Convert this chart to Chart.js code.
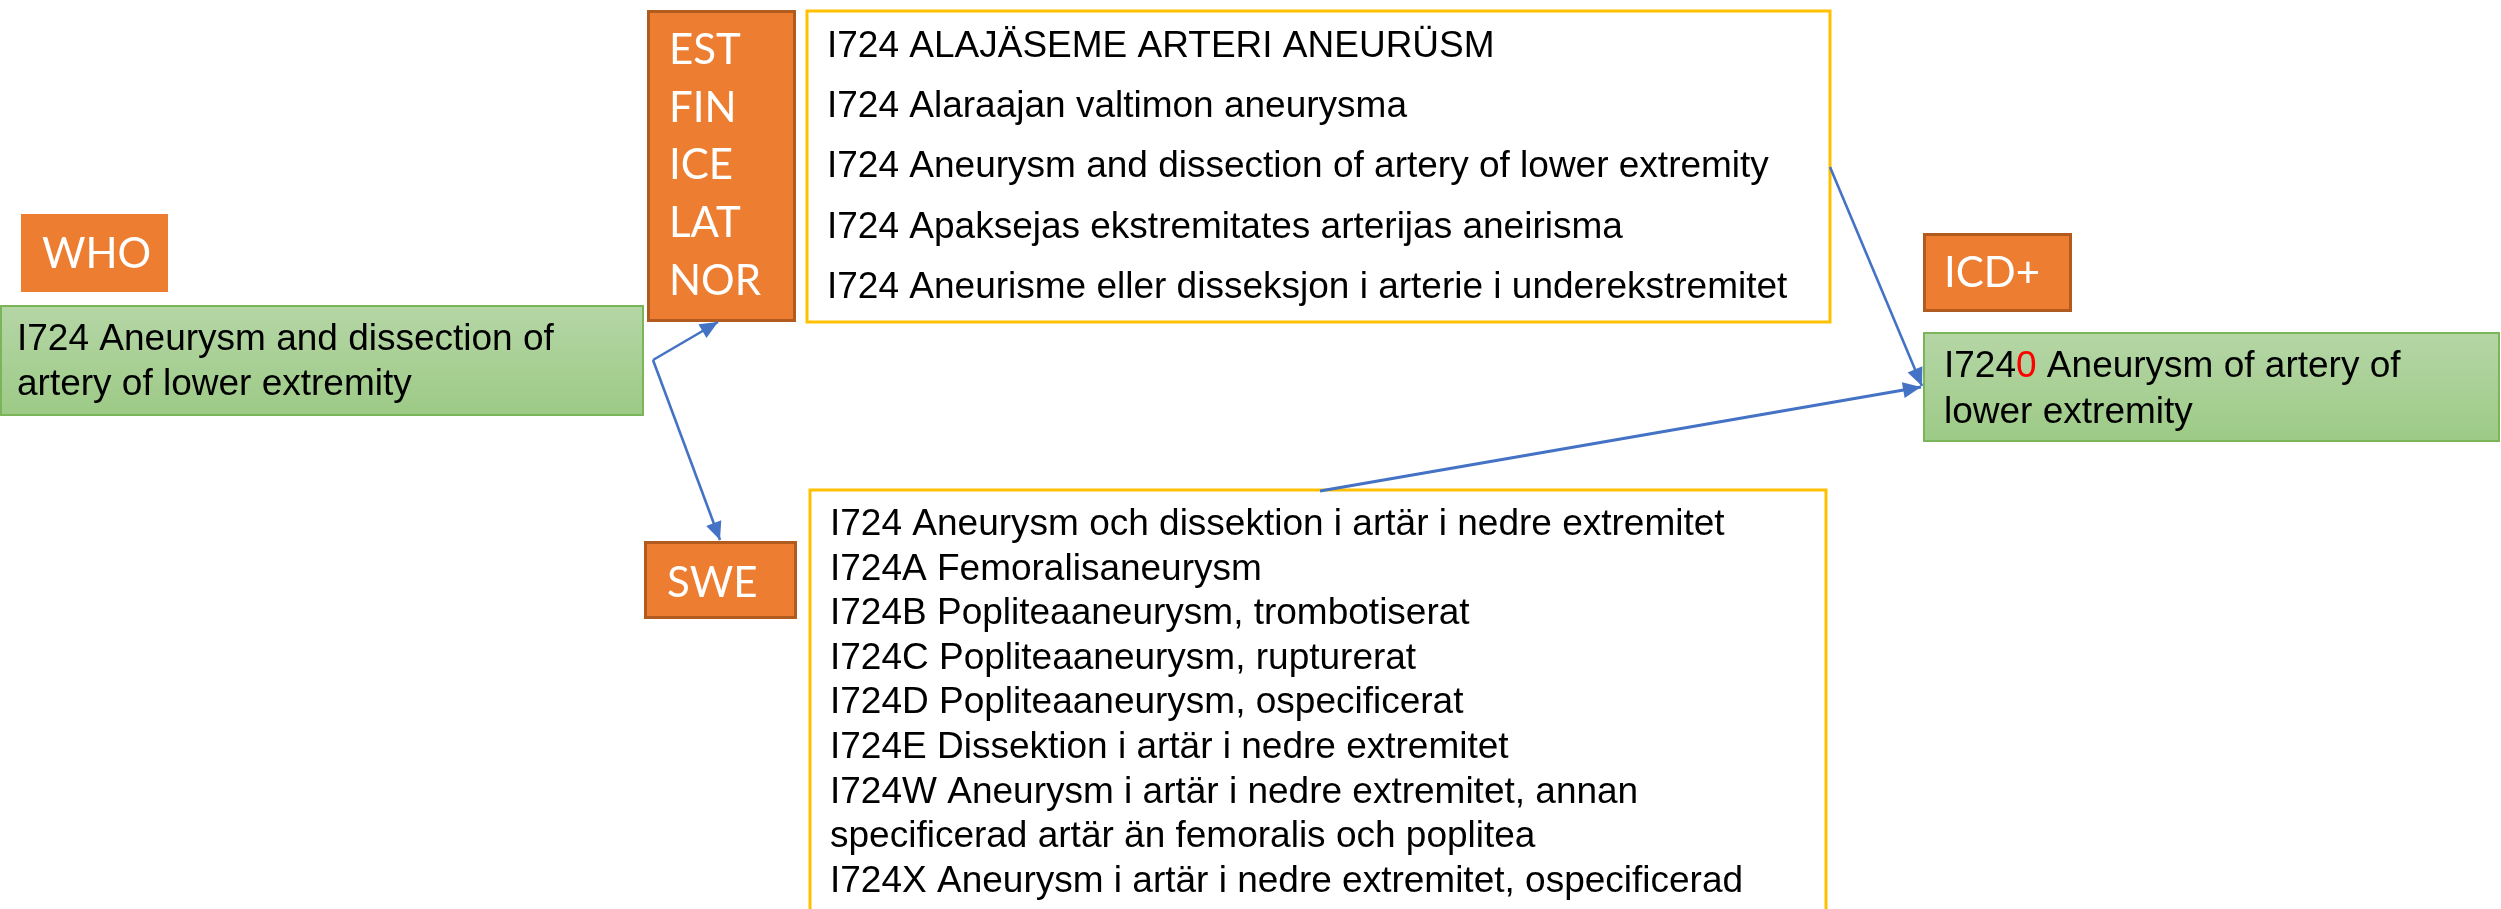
<!DOCTYPE html>
<html>
<head>
<meta charset="utf-8">
<script src="https://cdn.jsdelivr.net/npm/chart.js@4"></script>
<style>
  html, body { margin: 0; padding: 0; background: #fff; }
  #wrap { width: 2501px; height: 909px; }
</style>
</head>
<body>
<div id="wrap"><canvas id="mapChart" width="2501" height="909"></canvas></div>
<script>
// labels and terms
const whoLabel = "WHO";
const icdLabel = "ICD+";
const sweLabel = "SWE";
const langCodes = ["EST", "FIN", "ICE", "LAT", "NOR"];
const whoTerm = ["I724 Aneurysm and dissection of", "artery of lower extremity"];
const nordicTerms = [
  "I724 ALAJÄSEME ARTERI ANEURÜSM",
  "I724 Alaraajan valtimon aneurysma",
  "I724 Aneurysm and dissection of artery of lower extremity",
  "I724 Apaksejas ekstremitates arterijas aneirisma",
  "I724 Aneurisme eller disseksjon i arterie i underekstremitet"
];
const sweTerms = [
  "I724 Aneurysm och dissektion i artär i nedre extremitet",
  "I724A Femoralisaneurysm",
  "I724B Popliteaaneurysm, trombotiserat",
  "I724C Popliteaaneurysm, rupturerat",
  "I724D Popliteaaneurysm, ospecificerat",
  "I724E Dissektion i artär i nedre extremitet",
  "I724W Aneurysm i artär i nedre extremitet, annan",
  "specificerad artär än femoralis och poplitea",
  "I724X Aneurysm i artär i nedre extremitet, ospecificerad"
];
// ICD+ code split so the added digit can be red
const icdCode = ["I724", "0"];
const icdTerm = [" Aneurysm of artery of", "lower extremity"];

// connector arrows (x, y in page units)
const linkToNordic = [{ x: 653, y: 360 }, { x: 718, y: 322 }];
const linkToSwe = [{ x: 653, y: 360 }, { x: 720, y: 540 }];
const linkNordicIcd = [{ x: 1830, y: 167 }, { x: 1922, y: 386 }];
const linkSweIcd = [{ x: 1320, y: 491 }, { x: 1921, y: 387 }];

// box layout
const layout = {
  who: { x0: 21, y0: 214, x1: 168, y1: 292 },
  whoGreen: { x0: 0, y0: 305, x1: 644, y1: 416 },
  nordicTag: { x0: 647, y0: 10, x1: 796, y1: 322 },
  nordicBox: { x0: 807, y0: 11, x1: 1830, y1: 322 },
  sweTag: { x0: 644, y0: 541, x1: 797, y1: 619 },
  sweBox: { x0: 810, y0: 490, x1: 1826, y1: 960 },
  icdTag: { x0: 1923, y0: 233, x1: 2072, y1: 312 },
  icdGreen: { x0: 1923, y0: 332, x1: 2500, y1: 442 }
};

const ORANGE = "#ed7d31";
const ORANGE_EDGE = "#b25b1f";
const YELLOW = "#ffc000";
const GREEN_EDGE = "#7ab55a";
const BLUE = "#4472c4";
const tagFont = "42px Lato";
const termFont = "37px 'Liberation Sans'";

function px(chart, x, y) {
  return { x: chart.scales.x.getPixelForValue(x), y: chart.scales.y.getPixelForValue(y) };
}

function rect(chart, b) {
  const a = px(chart, b.x0, b.y0);
  const c = px(chart, b.x1, b.y1);
  return { x: a.x, y: a.y, w: c.x - a.x, h: c.y - a.y };
}

function orangeBox(ctx, chart, b, edge) {
  const r = rect(chart, b);
  ctx.fillStyle = ORANGE;
  ctx.fillRect(r.x, r.y, r.w, r.h);
  if (edge) {
    ctx.strokeStyle = ORANGE_EDGE;
    ctx.lineWidth = 3;
    ctx.strokeRect(r.x + 1.5, r.y + 1.5, r.w - 3, r.h - 3);
  }
}

function greenBox(ctx, chart, b) {
  const r = rect(chart, b);
  const g = ctx.createLinearGradient(0, r.y, 0, r.y + r.h);
  g.addColorStop(0, "#b5d6a6");
  g.addColorStop(1, "#9dca86");
  ctx.fillStyle = g;
  ctx.fillRect(r.x, r.y, r.w, r.h);
  ctx.strokeStyle = GREEN_EDGE;
  ctx.lineWidth = 2;
  ctx.strokeRect(r.x + 1, r.y + 1, r.w - 2, r.h - 2);
}

function yellowBox(ctx, chart, b) {
  const r = rect(chart, b);
  ctx.fillStyle = "#fff";
  ctx.fillRect(r.x, r.y, r.w, r.h);
  ctx.strokeStyle = YELLOW;
  ctx.lineWidth = 3;
  ctx.strokeRect(r.x, r.y, r.w, r.h);
}

function text(ctx, chart, str, x, y, font, color) {
  const p = px(chart, x, y);
  ctx.font = font;
  ctx.fillStyle = color;
  ctx.textBaseline = "alphabetic";
  ctx.textAlign = "left";
  ctx.fillText(str, p.x, p.y);
}

const diagramPlugin = {
  id: "diagram",
  beforeDatasetsDraw(chart) {
    const ctx = chart.ctx;
    ctx.save();

    orangeBox(ctx, chart, layout.who, false);
    text(ctx, chart, whoLabel, 42, 268, tagFont, "#fff");

    greenBox(ctx, chart, layout.whoGreen);
    whoTerm.forEach((t, i) => text(ctx, chart, t, 17, 350 + i * 45, termFont, "#000"));

    orangeBox(ctx, chart, layout.nordicTag, true);
    langCodes.forEach((c, i) => text(ctx, chart, c, 669, 64 + i * 57.7, tagFont, "#fff"));

    yellowBox(ctx, chart, layout.nordicBox);
    nordicTerms.forEach((t, i) => text(ctx, chart, t, 827, 57 + i * 60.2, termFont, "#000"));

    orangeBox(ctx, chart, layout.sweTag, true);
    text(ctx, chart, sweLabel, 667, 597, tagFont, "#fff");

    yellowBox(ctx, chart, layout.sweBox);
    sweTerms.forEach((t, i) => text(ctx, chart, t, 830, 535 + i * 44.6, termFont, "#000"));

    orangeBox(ctx, chart, layout.icdTag, true);
    text(ctx, chart, icdLabel, 1944, 287, tagFont, "#fff");

    greenBox(ctx, chart, layout.icdGreen);
    ctx.font = termFont;
    const w0 = ctx.measureText(icdCode[0]).width;
    const w1 = ctx.measureText(icdCode[1]).width;
    text(ctx, chart, icdCode[0], 1944, 377, termFont, "#000");
    text(ctx, chart, icdCode[1], 1944 + w0, 377, termFont, "#ff0000");
    text(ctx, chart, icdTerm[0], 1944 + w0 + w1, 377, termFont, "#000");
    text(ctx, chart, icdTerm[1], 1944, 423, termFont, "#000");

    ctx.restore();
  },
  afterDatasetsDraw(chart) {
    // arrow heads at the last point of every link
    const ctx = chart.ctx;
    ctx.save();
    chart.data.datasets.forEach((ds, i) => {
      const pts = chart.getDatasetMeta(i).data;
      const a = pts[pts.length - 2], b = pts[pts.length - 1];
      const ang = Math.atan2(b.y - a.y, b.x - a.x);
      const len = 18, half = 8;
      ctx.fillStyle = ds.borderColor;
      ctx.beginPath();
      ctx.moveTo(b.x, b.y);
      ctx.lineTo(b.x - len * Math.cos(ang) + half * Math.sin(ang), b.y - len * Math.sin(ang) - half * Math.cos(ang));
      ctx.lineTo(b.x - len * Math.cos(ang) - half * Math.sin(ang), b.y - len * Math.sin(ang) + half * Math.cos(ang));
      ctx.closePath();
      ctx.fill();
    });
    ctx.restore();
  }
};

function linkSet(points, width) {
  return {
    data: points,
    showLine: true,
    borderColor: BLUE,
    borderWidth: width,
    pointRadius: 0,
    fill: false
  };
}

document.addEventListener("DOMContentLoaded", () => {
  const ctx = document.getElementById("mapChart").getContext("2d");
  new Chart(ctx, {
    type: "scatter",
    data: {
      datasets: [
        linkSet(linkToNordic, 2.6),
        linkSet(linkToSwe, 2.6),
        linkSet(linkNordicIcd, 2.6),
        linkSet(linkSweIcd, 3.2)
      ]
    },
    options: {
      responsive: false,
      animation: false,
      layout: { padding: 0 },
      plugins: { legend: { display: false }, tooltip: { enabled: false } },
      scales: {
        x: { type: "linear", min: 0, max: 2501, display: false },
        y: { type: "linear", min: 0, max: 909, reverse: true, display: false }
      }
    },
    plugins: [diagramPlugin]
  });
});
</script>
</body>
</html>
